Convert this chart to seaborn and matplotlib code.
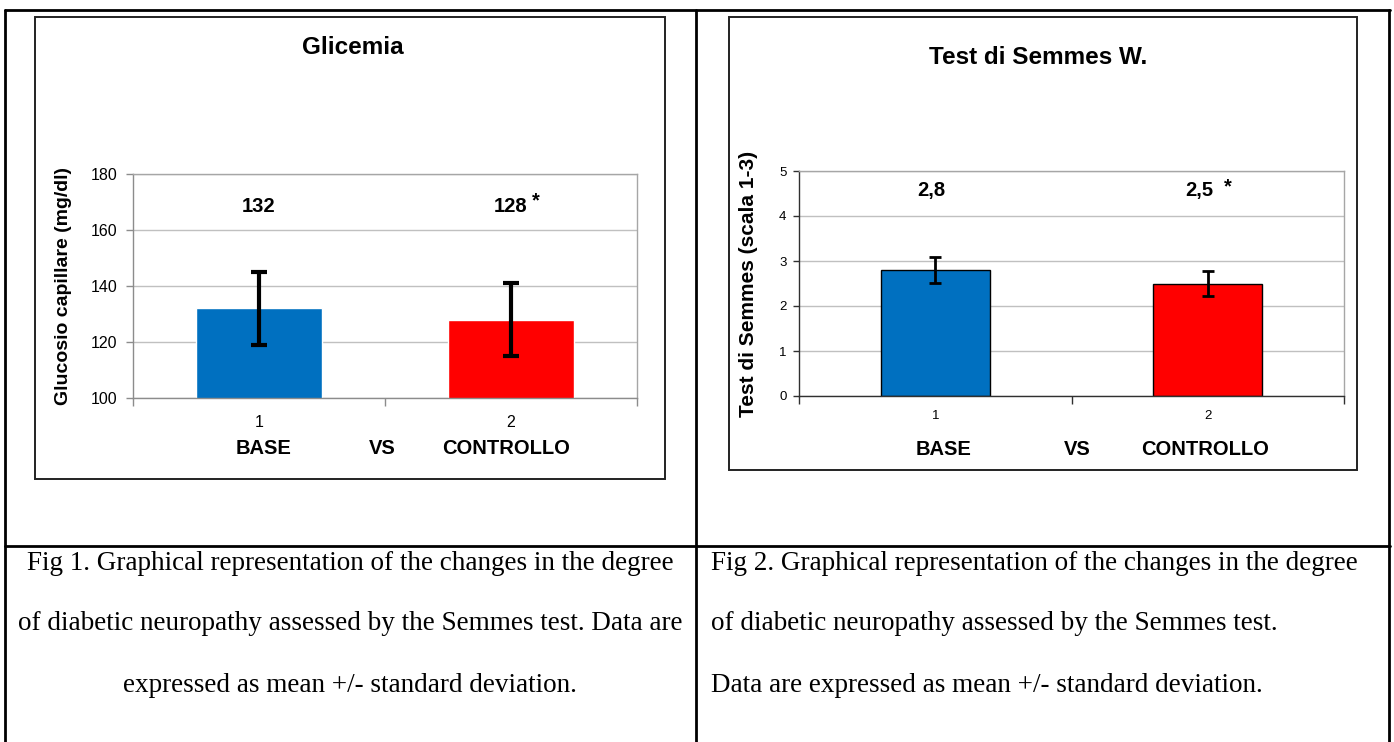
import matplotlib
matplotlib.use("Agg")
import matplotlib.pyplot as plt
import seaborn as sns
from matplotlib.lines import Line2D
from matplotlib.patches import Rectangle

# data
groups = ["1", "2"]
glic_mean = [132, 128]
glic_sd = [13, 13]
glic_labels = ["132", "128"]
semmes_mean = [2.8, 2.5]
semmes_sd = [0.28, 0.27]
semmes_labels = ["2,8", "2,5"]
bar_colors = ["#0070C0", "#FF0000"]
group_names = ["BASE", "VS", "CONTROLLO"]
caption_1 = ["Fig 1. Graphical representation of the changes in the degree",
             "of diabetic neuropathy assessed by the Semmes test. Data are",
             "expressed as mean +/- standard deviation."]
caption_2 = ["Fig 2. Graphical representation of the changes in the degree",
             "of diabetic neuropathy assessed by the Semmes test.",
             "Data are expressed as mean +/- standard deviation."]

sns.set_theme(style="white")
plt.rcParams['font.family'] = ['Liberation Sans', 'DejaVu Sans']
plt.rcParams.update({"text.color": "black", "axes.labelcolor": "black",
                     "xtick.color": "black", "ytick.color": "black"})

W, H = 1394, 742
fig = plt.figure(figsize=(W / 100, H / 100), dpi=100)


def px_rect(x0, y0, x1, y1):
    # pixel box (top-left origin) -> figure fraction
    return [x0 / W, 1 - y1 / H, (x1 - x0) / W, (y1 - y0) / H]


def fig_line(x0, y0, x1, y1, lw=2.0, color="black"):
    fig.add_artist(Line2D([x0 / W, x1 / W], [1 - y0 / H, 1 - y1 / H],
                          transform=fig.transFigure, lw=lw, color=color))


def chart_box(x0, y0, x1, y1):
    fig.add_artist(Rectangle((x0 / W, 1 - y1 / H), (x1 - x0) / W, (y1 - y0) / H,
                             transform=fig.transFigure, fill=False,
                             edgecolor="#222222", lw=1.4))


def style_axis(ax, ylim, yticks, tick_size, spine_main):
    ax.set_xlim(-0.5, 1.5)
    ax.set_ylim(*ylim)
    ax.set_yticks(yticks)
    ax.yaxis.grid(True, color="#c0c0c0", lw=1)
    ax.set_axisbelow(True)
    for s in ["top", "right"]:
        ax.spines[s].set_color("#a6a6a6")
    for s in ["left", "bottom"]:
        ax.spines[s].set_color(spine_main)
    for s in ax.spines.values():
        s.set_linewidth(1)
    ax.tick_params(axis="y", left=True, length=5, width=1, color=spine_main,
                   labelsize=tick_size, pad=6, labelcolor="black")
    ax.tick_params(axis="x", bottom=False, labelsize=tick_size,
                   labelcolor="black")
    ax.set_xticks([-0.5, 0.5, 1.5], minor=True)
    ax.tick_params(axis="x", which="minor", bottom=True, length=6, width=1,
                   color=spine_main, direction="out")
    ax.set_xlabel("")


# ---- left chart: Glicemia
chart_box(35, 17, 665, 479)
ax1 = fig.add_axes(px_rect(133, 174, 637, 398))
sns.barplot(x=groups, y=glic_mean, hue=groups, palette=bar_colors, legend=False,
            width=0.5, saturation=1, ax=ax1)
ax1.errorbar(range(len(groups)), glic_mean, yerr=glic_sd, fmt="none",
             ecolor="black", elinewidth=3, capsize=5.5, capthick=3)
style_axis(ax1, (100, 180), [100, 120, 140, 160, 180], 11.5, "#8c8c8c")
ax1.tick_params(axis="x", pad=6)
ax1.set_ylabel("Glucosio capillare (mg/dl)", fontsize=14, fontweight="bold")
ax1.yaxis.set_label_coords(-0.121, 0.5)
fig.text(353 / W, 1 - 48 / H, "Glicemia", ha="center", va="center",
         fontsize=17.5, fontweight="bold")
for i, lab in enumerate(glic_labels):
    ax1.text(i, 168.4, lab, ha="center", va="center", fontsize=14.5,
             fontweight="bold")
ax1.text(1.1, 170.5, "*", ha="center", va="center", fontsize=14.5,
         fontweight="bold")
for x, name in zip([0.02, 0.49, 0.98], group_names):
    ax1.text(x, -0.227, name, transform=ax1.get_xaxis_transform(),
             ha="center", va="center", fontsize=14.5, fontweight="bold")

# ---- right chart: Semmes
chart_box(729, 17, 1357, 470)
ax2 = fig.add_axes(px_rect(799, 171, 1344, 396))
sns.barplot(x=groups, y=semmes_mean, hue=groups, palette=bar_colors,
            legend=False, width=0.4, saturation=1, edgecolor="black",
            linewidth=1, ax=ax2)
ax2.errorbar(range(len(groups)), semmes_mean, yerr=semmes_sd, fmt="none",
             ecolor="black", elinewidth=2, capsize=4, capthick=2)
style_axis(ax2, (0, 5), [0, 1, 2, 3, 4, 5], 9.5, "#303030")
ax2.tick_params(axis="x", pad=4)
ax2.tick_params(axis="y", length=4, pad=5)
ax2.set_ylabel("Test di Semmes (scala 1-3)", fontsize=15, fontweight="bold")
ax2.yaxis.set_label_coords(-0.075, 0.5)
fig.text(1038 / W, 1 - 57 / H, "Test di Semmes W.", ha="center", va="center",
         fontsize=17.5, fontweight="bold")
label_x = [-0.015, 0.97]
for x, lab in zip(label_x, semmes_labels):
    ax2.text(x, 4.56, lab, ha="center", va="center", fontsize=14.5,
             fontweight="bold")
ax2.text(1.075, 4.64, "*", ha="center", va="center", fontsize=14.5,
         fontweight="bold")
for x, name in zip([0.03, 0.52, 0.99], group_names):
    ax2.text(x, -0.236, name, transform=ax2.get_xaxis_transform(),
             ha="center", va="center", fontsize=14.5, fontweight="bold")

# ---- table lines
fig_line(5, 10, 1390, 10, lw=2)
fig_line(5, 10, 5, 742, lw=2)
fig_line(696, 10, 696, 742, lw=2)
fig_line(1389, 10, 1389, 742, lw=2)
fig_line(5, 546, 1390, 546, lw=2)

# ---- captions
rows_y = [563, 624, 686]
for y, line in zip(rows_y, caption_1):
    fig.text(350 / W, 1 - y / H, line, ha="center", va="center",
             fontsize=19.5, family="Liberation Serif")
for y, line in zip(rows_y, caption_2):
    fig.text(711 / W, 1 - y / H, line, ha="left", va="center",
             fontsize=19.5, family="Liberation Serif")

fig.savefig("out.png", dpi=100, facecolor="white")
